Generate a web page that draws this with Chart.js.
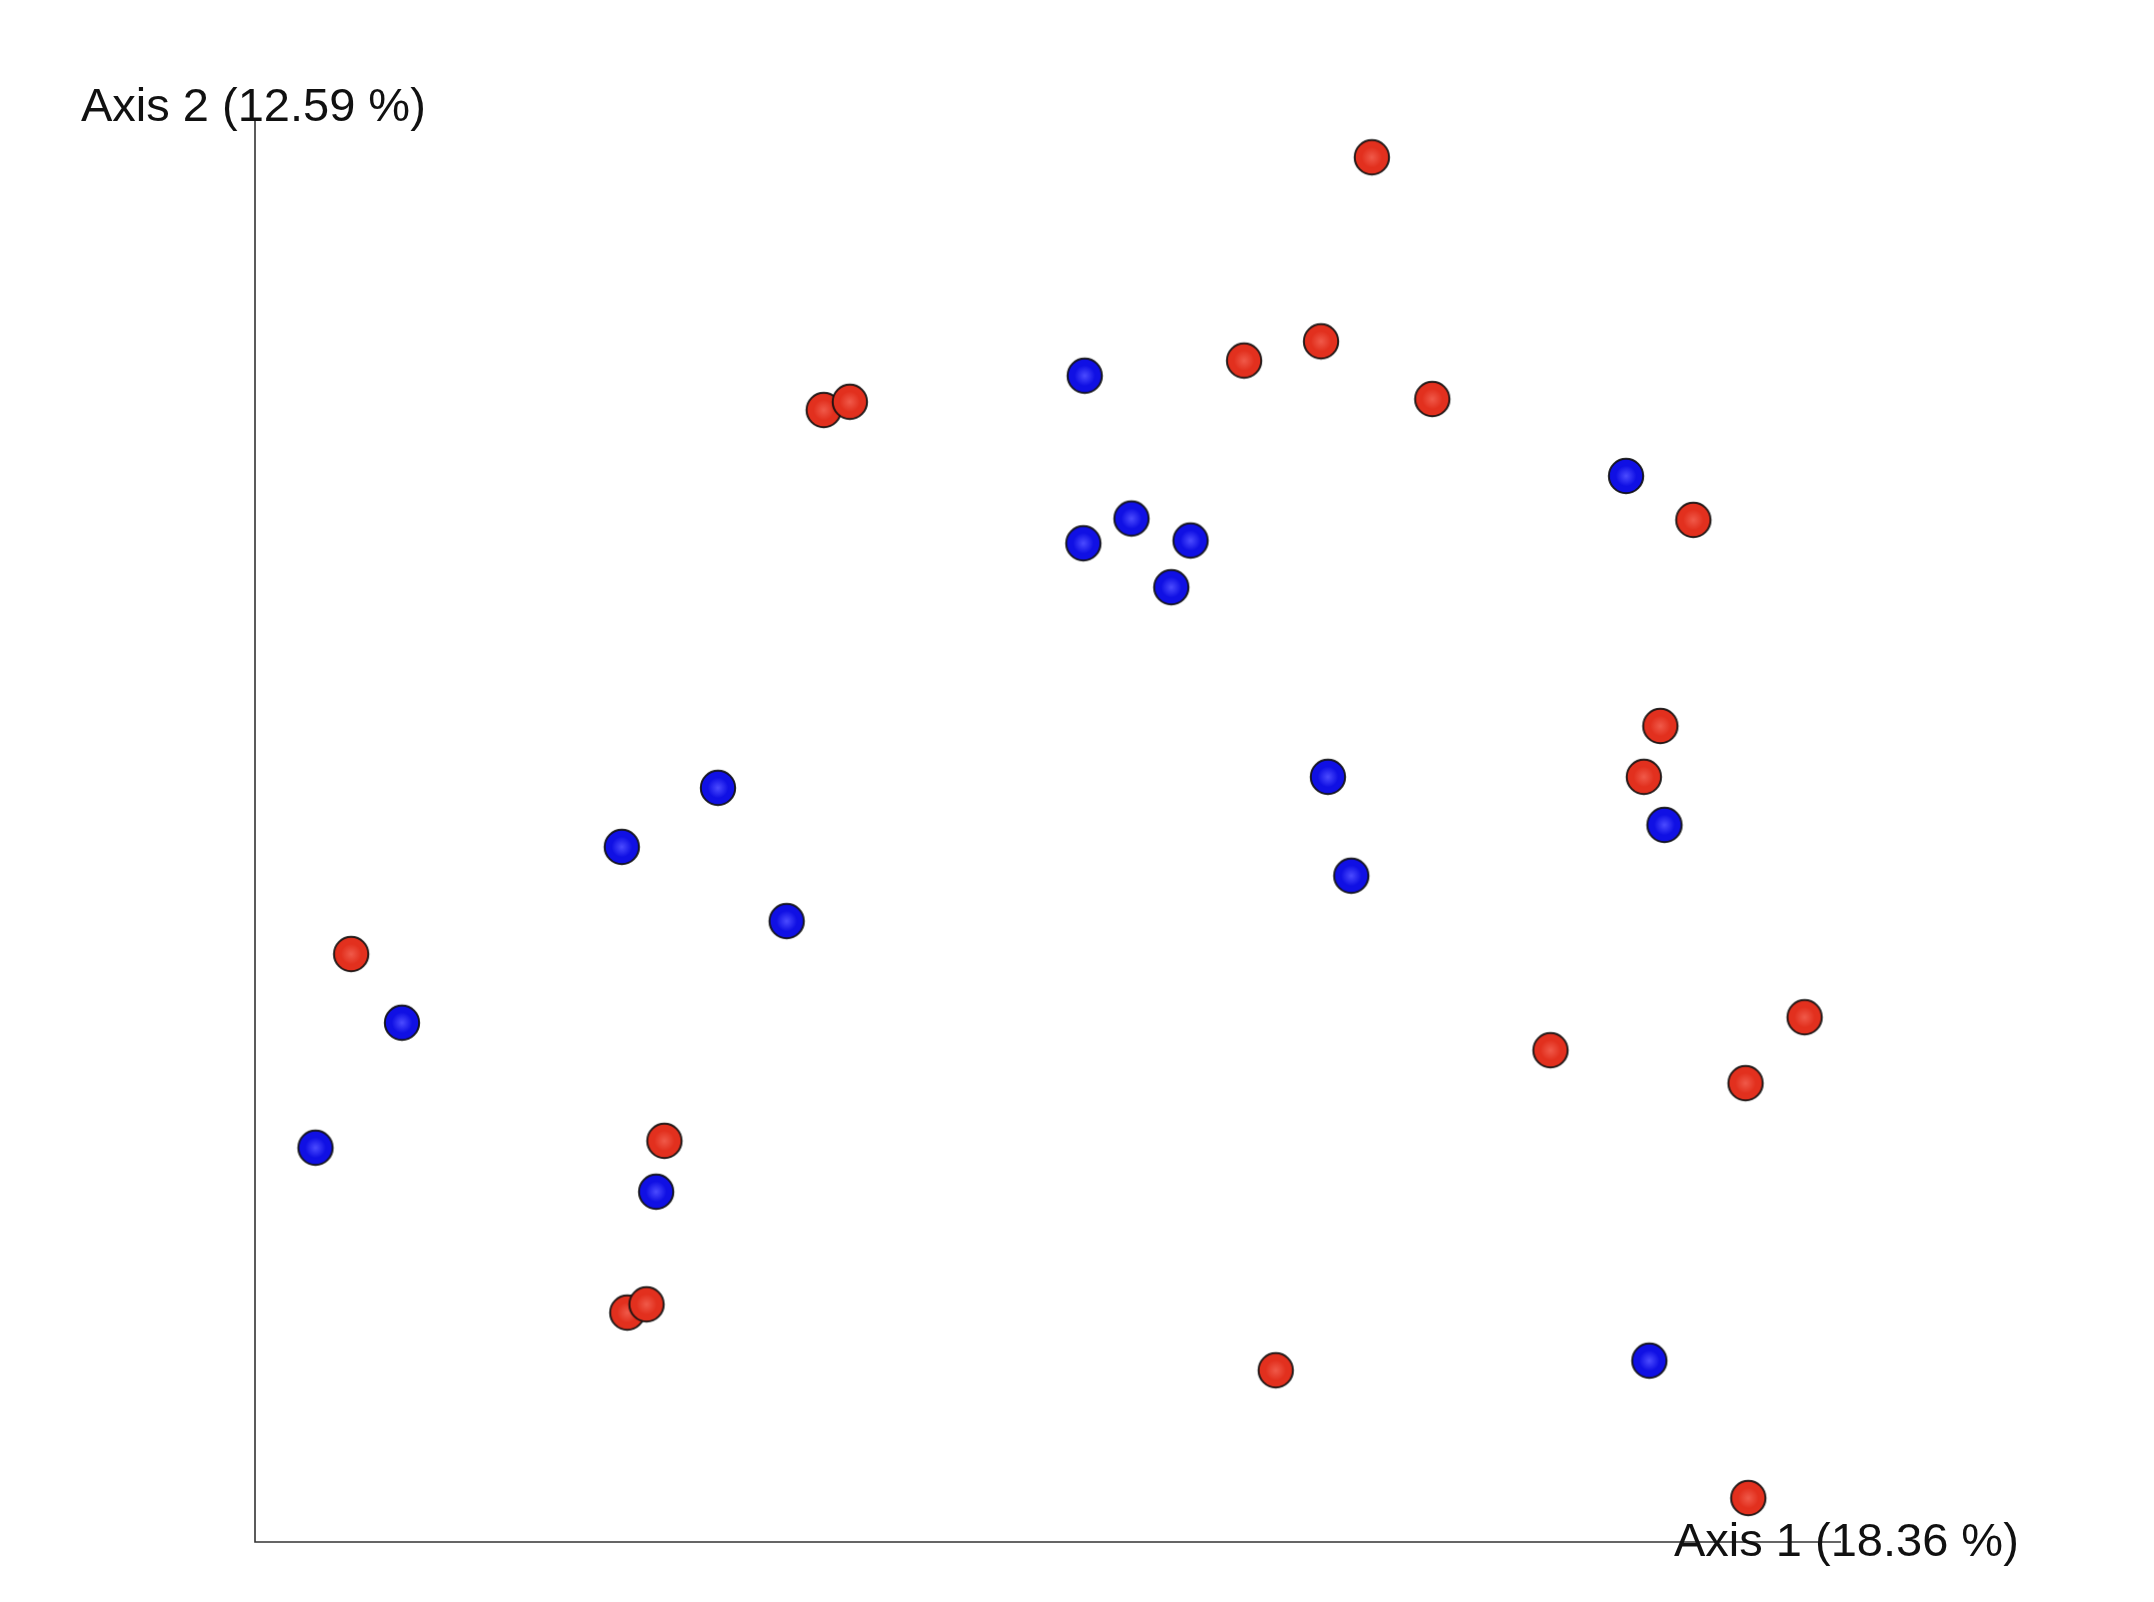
<!DOCTYPE html>
<html>
<head>
<meta charset="utf-8">
<title>PCoA</title>
<script src="https://cdn.jsdelivr.net/npm/chart.js@4/dist/chart.umd.min.js"></script>
<style>
    html, body { margin: 0; padding: 0; background: #fff; }
    #wrap { width: 2154px; height: 1602px; }
</style>
</head>
<body>
<div id="wrap"><canvas id="pcoa" width="2154" height="1602"></canvas></div>
<script>
// axis labels
const xAxisLabel = 'Axis 1 (18.36 %)';
const yAxisLabel = 'Axis 2 (12.59 %)';

// sample positions along the two axes (arbitrary units, origin at the axis corner)
const redX = [813, 720, 776, 857, 414, 433, 1047, 1023, 1011, 70, 1128, 943, 1085, 298, 271, 285, 743, 1087];
const redY = [1008, 860, 874, 832, 824, 830, 744, 594, 557, 428, 382, 358, 334, 292, 167, 173, 125, 32];
const blueX = [604, 998, 638, 603, 681, 667, 337, 781, 267, 1026, 798, 387, 107, 44, 292, 1015];
const blueY = [849, 776, 745, 727, 729, 695, 549, 557, 506, 522, 485, 452, 378, 287, 255, 132];

const xRange = [0, 1154.5];
const yRange = [0, 1034.4];

function toPoints(xs, ys) {
    return xs.map((x, i) => ({ x: x, y: ys[i] }));
}

// small shaded sphere sprite used as point style
function sphere(inner, outer) {
    const size = 40;
    const c = document.createElement('canvas');
    c.width = size;
    c.height = size;
    const g = c.getContext('2d');
    const r = 17.2;
    const grad = g.createRadialGradient(size / 2, size / 2, 0, size / 2, size / 2, r);
    grad.addColorStop(0, inner);
    grad.addColorStop(0.6, outer);
    grad.addColorStop(1, outer);
    g.beginPath();
    g.arc(size / 2, size / 2, r, 0, Math.PI * 2);
    g.fillStyle = grad;
    g.fill();
    g.lineWidth = 2;
    g.strokeStyle = 'rgba(15, 15, 15, 0.9)';
    g.stroke();
    return c;
}

const redBall = sphere('#f05a4a', '#e2301e');
const blueBall = sphere('#4c4cff', '#1010e4');

const axesPlugin = {
    id: 'pcoaAxes',
    afterDraw: (chart) => {
        const { ctx, chartArea } = chart;
        ctx.save();
        ctx.strokeStyle = '#333';
        ctx.lineWidth = 1.6;
        ctx.beginPath();
        ctx.moveTo(chartArea.left, chartArea.top);
        ctx.lineTo(chartArea.left, chartArea.bottom);
        ctx.lineTo(chartArea.right, chartArea.bottom);
        ctx.stroke();

        ctx.fillStyle = '#111';
        ctx.font = '47px "Liberation Sans", Arial, sans-serif';
        ctx.textBaseline = 'alphabetic';
        ctx.textAlign = 'left';
        ctx.fillText(yAxisLabel, 81, 121);
        ctx.fillText(xAxisLabel, 1674, 1556);
        ctx.restore();
    }
};

new Chart(document.getElementById('pcoa'), {
    type: 'scatter',
    plugins: [axesPlugin],
    data: {
        datasets: [{
            label: 'red',
            data: toPoints(redX, redY),
            pointStyle: redBall,
            pointRadius: 18
        }, {
            label: 'blue',
            data: toPoints(blueX, blueY),
            pointStyle: blueBall,
            pointRadius: 18
        }]
    },
    options: {
        responsive: false,
        animation: false,
        events: [],
        layout: {
            padding: { left: 255, top: 121, right: 313, bottom: 60 }
        },
        plugins: {
            legend: { display: false },
            tooltip: { enabled: false }
        },
        scales: {
            x: { type: 'linear', min: xRange[0], max: xRange[1], display: false },
            y: { type: 'linear', min: yRange[0], max: yRange[1], display: false }
        }
    }
});
</script>
</body>
</html>
